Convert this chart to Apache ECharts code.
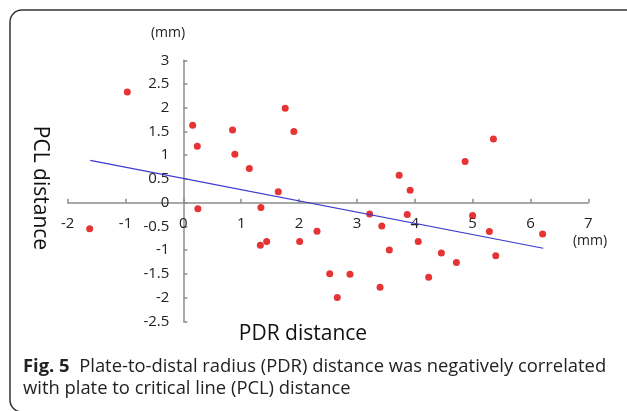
<!DOCTYPE html>
<html>
<head>
<meta charset="utf-8">
<script src="https://cdn.jsdelivr.net/npm/echarts@6/dist/echarts.min.js"></script>
<style>
  html, body { margin: 0; padding: 0; background: #fff; }
  #chart { width: 627px; height: 411px; }
</style>
</head>
<body>
<div id="chart"></div>
<script>
// PDR distance (x) vs PCL distance (y), both in mm
var pdrValues = [-0.97, 0.16, 0.24, 0.85, 0.89, 1.14, 1.76, 1.91, 1.64, 5.36, 4.87, 3.73, 3.92,
  -1.62, 0.25, 1.34, 2.31, 1.33, 1.44, 2.01, 3.22, 3.87, 5.0, 3.43, 5.29, 6.21, 4.06, 3.56,
  4.46, 4.72, 5.40, 2.53, 2.88, 4.24, 3.40, 2.66];
var pclValues = [2.33, 1.63, 1.19, 1.53, 1.02, 0.72, 1.99, 1.50, 0.23, 1.34, 0.87, 0.58, 0.26,
  -0.55, -0.13, -0.10, -0.60, -0.90, -0.82, -0.82, -0.24, -0.25, -0.27, -0.49, -0.61, -0.66, -0.82, -1.00,
  -1.06, -1.26, -1.12, -1.50, -1.51, -1.57, -1.78, -2.00];
// linear trend line end points
var trendX = [-1.61, 6.22];
var trendY = [0.89, -0.96];

var points = pdrValues.map(function (x, i) { return [x, pclValues[i]]; });
var trend = trendX.map(function (x, i) { return [x, trendY[i]]; });

var chart = echarts.init(document.getElementById('chart'));
var labelFont = '"Open Sans", "Noto Sans", sans-serif';

// grid box, axes are shifted onto the zero lines with offset
var gridL = 67.7, gridR = 588.3, gridT = 60.3, gridB = 321.3;
var xZeroPx = gridL + (gridR - gridL) * 2 / 9;
var yZeroPx = gridT + (gridB - gridT) * 3 / 5.5;

chart.setOption({
  animation: false,
  grid: { left: gridL, right: 627 - gridR, top: gridT, bottom: 411 - gridB },
  xAxis: {
    type: 'value', min: -2, max: 7, interval: 1,
    offset: -(gridB - yZeroPx),
    splitLine: { show: false },
    axisLine: { onZero: false, lineStyle: { color: '#8c8c8c', width: 1.5 } },
    axisTick: { inside: true, length: 4, lineStyle: { color: '#8c8c8c', width: 1.5 } },
    axisLabel: { margin: 14, color: '#222', fontSize: 15, fontFamily: labelFont }
  },
  yAxis: {
    type: 'value', min: -2.5, max: 3, interval: 0.5,
    offset: -(xZeroPx - gridL),
    splitLine: { show: false },
    axisLine: { show: true, onZero: false, lineStyle: { color: '#8c8c8c', width: 1.5 } },
    axisTick: { show: true, inside: true, length: 4, lineStyle: { color: '#8c8c8c', width: 1.5 } },
    axisLabel: { margin: 14, color: '#222', fontSize: 15, fontFamily: labelFont }
  },
  series: [
    {
      type: 'scatter', data: points, symbolSize: 7,
      itemStyle: { color: '#e00000' }
    },
    {
      type: 'line', data: trend, symbol: 'none',
      lineStyle: { color: '#3a3acc', width: 1.2 }
    }
  ],
  graphic: [
    { type: 'rect', shape: { x: 10, y: 10, width: 630, height: 402, r: 12 },
      style: { fill: 'none', stroke: '#333', lineWidth: 1.5 } },
    { type: 'text', x: 168, y: 33, style: { text: '(mm)', fontSize: 14, fontFamily: labelFont, fill: '#222', align: 'center', verticalAlign: 'middle' } },
    { type: 'text', x: 590, y: 241, style: { text: '(mm)', fontSize: 14, fontFamily: labelFont, fill: '#222', align: 'center', verticalAlign: 'middle' } },
    { type: 'text', x: 40, y: 188, rotation: -Math.PI / 2,
      style: { text: 'PCL distance', fontSize: 21, fontFamily: labelFont, fill: '#111', align: 'center', verticalAlign: 'middle' } },
    { type: 'text', x: 303, y: 334, style: { text: 'PDR distance', fontSize: 21, fontFamily: labelFont, fill: '#111', align: 'center', verticalAlign: 'middle' } },
    { type: 'text', x: 23, y: 356,
      style: {
        text: '{b|Fig. 5}  Plate-to-distal radius (PDR) distance was negatively correlated\nwith plate to critical line (PCL) distance',
        fontSize: 18.4, fontFamily: labelFont, fill: '#222', lineHeight: 22, verticalAlign: 'top',
        rich: { b: { fontWeight: 'bold', fontSize: 18.4, fontFamily: labelFont, fill: '#222' } }
      } }
  ]
});
</script>
</body>
</html>
